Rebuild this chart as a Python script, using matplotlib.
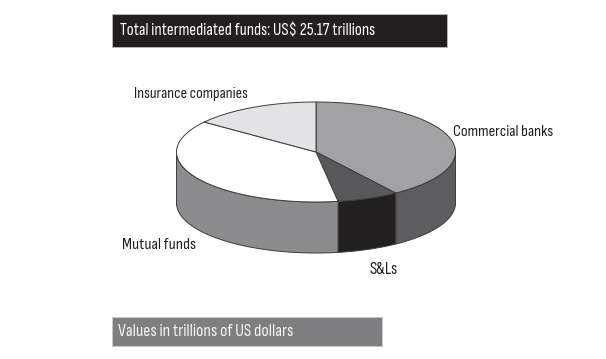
#!/usr/bin/env python3
"""
3D-style pie of intermediated funds, drawn in pixel coordinates.
"""
import numpy as np
import matplotlib
matplotlib.use("Agg")
import matplotlib.pyplot as plt
import matplotlib.patches as patches
from matplotlib import font_manager

# Data (trillions of US dollars)
CATEGORIES = ['Commercial banks', 'S&Ls', 'Mutual funds', 'Insurance companies']
VALUES = [10.15, 1.80, 9.50, 3.72]
TITLE = 'Total intermediated funds: US$ 25.17 trillions'
FOOTER = 'Values in trillions of US dollars'

# Layout (pixels)
W, H = 606, 359
CX, CY = 316, 152      # centre of top face
RX, RY = 139.5, 50     # ellipse radii
DEPTH = 51             # wall height
START = 90             # first slice starts at 12 o'clock, goes clockwise

TOP_COLORS = ['#a2a2a4', '#59595b', '#ffffff', '#e3e3e5']
SIDE_COLORS = ['#5d5d5f', '#231f20', '#8c8c8e', '#b0b0b2']
EDGE = '#3c3c3e'
TEXT = '#231f20'

# label anchor (left x, centre y) and the width the text spans in the reference
LABELS = {
    'Commercial banks': (453, 132, 100),
    'S&Ls': (370, 270, 28),
    'Mutual funds': (122, 245, 73),
    'Insurance companies': (134, 94, 113),
}

installed = {f.name for f in font_manager.fontManager.ttflist}
FONT = [f for f in ['Sofia Sans Condensed', 'Sofia Sans Semi Condensed',
                    'Open Sans', 'DejaVu Sans'] if f in installed] or ['DejaVu Sans']
FONT = FONT[:1] + ['DejaVu Sans']


def ell(t_deg, dy=0):
    t = np.radians(t_deg)
    return CX + RX * np.cos(t), CY - RY * np.sin(t) + dy


def slice_angles(values):
    frac = np.array(values) / np.sum(values)
    ends = START - np.cumsum(frac) * 360
    starts = np.concatenate([[START], ends[:-1]])
    return starts, ends


def draw_sides(ax, starts, ends):
    # front half of the wall is t in [-180, 0]
    for s, e, col in zip(starts, ends, SIDE_COLORS):
        hi, lo = min(s, 0), max(e, -180)
        if hi <= lo:
            continue
        t = np.linspace(hi, lo, 60)
        x, y = ell(t)
        xb, yb = ell(t[::-1], DEPTH)
        pts = np.column_stack([np.concatenate([x, xb]), np.concatenate([y, yb])])
        ax.add_patch(patches.Polygon(pts, closed=True, facecolor=col,
                                     edgecolor=EDGE, linewidth=0.7, zorder=2))


def draw_top(ax, starts, ends):
    for s, e, col in zip(starts, ends, TOP_COLORS):
        t = np.linspace(s, e, 120)
        x, y = ell(t)
        pts = np.column_stack([np.concatenate([[CX], x]), np.concatenate([[CY], y])])
        ax.add_patch(patches.Polygon(pts, closed=True, facecolor=col,
                                     edgecolor=EDGE, linewidth=0.7, zorder=3))


def fit_text(fig, txt, width_px):
    """Scale a text's font size so it spans width_px pixels."""
    r = fig.canvas.get_renderer()
    w = txt.get_window_extent(renderer=r).width
    txt.set_fontsize(txt.get_fontsize() * width_px / w)


def main():
    fig = plt.figure(figsize=(W / 100, H / 100), dpi=100)
    ax = fig.add_axes([0, 0, 1, 1])
    ax.set_xlim(0, W)
    ax.set_ylim(H, 0)
    ax.axis('off')

    # Title bar
    ax.add_patch(patches.Rectangle((112, 14), 335, 33, facecolor='#231f20',
                                   edgecolor='#bdbdbd', linewidth=0.6, zorder=1))
    t = ax.text(120, 31, TITLE, color='white', fontsize=11, family=FONT,
                va='center', ha='left', zorder=2)
    fit_text(fig, t, 256)

    # Footer bar
    ax.add_patch(patches.Rectangle((112, 317), 270, 29, facecolor='#7f7f81',
                                   edgecolor='#c8c8c8', linewidth=0.6, zorder=1))
    t = ax.text(118, 331.5, FOOTER, color='#f4f4f4', fontsize=11, family=FONT,
                va='center', ha='left', zorder=2)
    fit_text(fig, t, 176)

    starts, ends = slice_angles(VALUES)
    draw_sides(ax, starts, ends)
    draw_top(ax, starts, ends)

    for name in CATEGORIES:
        x, y, wpx = LABELS[name]
        t = ax.text(x, y, name, color=TEXT, fontsize=10, family=FONT,
                    va='center', ha='left', zorder=4)
        fit_text(fig, t, wpx)

    fig.savefig('out.png', dpi=100, facecolor='white')
    plt.close(fig)


if __name__ == "__main__":
    main()
